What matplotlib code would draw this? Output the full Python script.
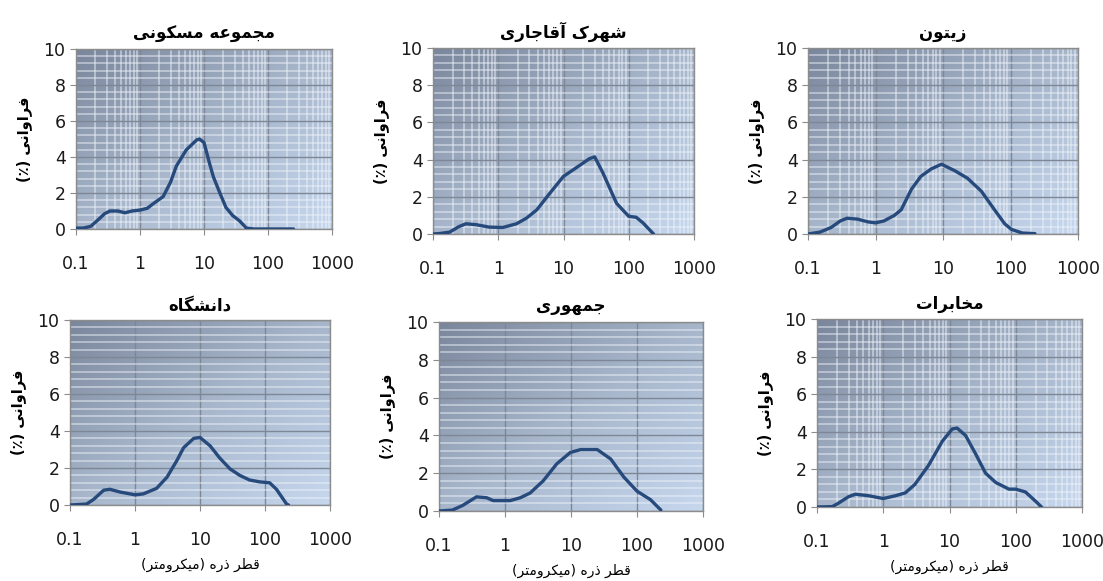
import matplotlib
matplotlib.use("Agg")
import matplotlib.pyplot as plt
from matplotlib.colors import LinearSegmentedColormap
from matplotlib.ticker import MultipleLocator, LogLocator, FixedLocator
import numpy as np

plt.rcParams['font.family'] = ['DejaVu Sans']

# ---- data (particle diameter in micrometre, frequency %) ----
titles = ["مجموعه مسکونی", "شهرک آقاجاری", "زیتون",
          "دانشگاه", "جمهوری", "مخابرات"]

x_maskooni = [0.1, 0.13, 0.17, 0.22, 0.28, 0.34, 0.45, 0.58, 0.75, 1.0, 1.3, 1.6, 2.3,
              3.0, 3.7, 5.3, 7.7, 8.5, 10, 12.3, 14, 17.7, 22, 28, 36, 46, 60, 100, 250]
y_maskooni = [0.05, 0.05, 0.15, 0.5, 0.85, 1.0, 1.0, 0.9, 1.0, 1.05, 1.15, 1.4, 1.8,
              2.6, 3.5, 4.4, 4.95, 5.0, 4.8, 3.6, 2.9, 2.0, 1.2, 0.75, 0.45, 0.05, 0.0, 0.0, 0.0]

x_aghajari = [0.1, 0.13, 0.18, 0.25, 0.32, 0.46, 0.73, 1.17, 1.9, 2.7, 3.9, 6.2, 10,
              15.5, 25, 30, 40, 65, 100, 130, 165, 240]
y_aghajari = [0.0, 0.03, 0.1, 0.4, 0.55, 0.5, 0.37, 0.35, 0.55, 0.85, 1.3, 2.2, 3.1,
              3.55, 4.05, 4.15, 3.3, 1.65, 0.95, 0.9, 0.6, 0.0]

x_zeytoon = [0.1, 0.15, 0.22, 0.3, 0.38, 0.54, 0.78, 1.0, 1.33, 1.9, 2.4, 3.4, 4.7,
             6.7, 9.5, 15, 23, 37, 58, 82, 103, 150, 230]
y_zeytoon = [0.0, 0.1, 0.35, 0.7, 0.85, 0.8, 0.65, 0.6, 0.7, 1.0, 1.3, 2.4, 3.1,
             3.5, 3.75, 3.4, 3.0, 2.3, 1.3, 0.55, 0.25, 0.05, 0.02]

x_daneshgah = [0.1, 0.18, 0.23, 0.33, 0.41, 0.59, 0.84, 1.0, 1.34, 2.15, 3.1, 4.4, 5.6,
               8.0, 10, 14.3, 20, 29, 41, 58, 83, 118, 150, 215, 230]
y_daneshgah = [0.0, 0.05, 0.3, 0.8, 0.85, 0.7, 0.6, 0.55, 0.6, 0.9, 1.5, 2.4, 3.1,
               3.6, 3.65, 3.2, 2.55, 1.95, 1.6, 1.35, 1.25, 1.2, 0.85, 0.05, 0.0]

x_jomhoori = [0.1, 0.16, 0.23, 0.37, 0.53, 0.66, 1.2, 1.7, 2.4, 3.8, 6.1, 9.8, 14,
              25, 40, 63, 100, 160, 230]
y_jomhoori = [0.0, 0.05, 0.3, 0.75, 0.7, 0.55, 0.55, 0.7, 0.95, 1.6, 2.5, 3.1, 3.25,
              3.25, 2.75, 1.8, 1.05, 0.6, 0.05]

x_mokhaberat = [0.1, 0.17, 0.21, 0.3, 0.38, 0.6, 1.0, 1.53, 2.15, 3.0, 4.8, 7.8, 11,
                13, 17.5, 25, 35, 50, 79, 100, 140, 200, 245]
y_mokhaberat = [0.0, 0.02, 0.2, 0.55, 0.68, 0.6, 0.45, 0.6, 0.75, 1.2, 2.2, 3.5, 4.15,
                4.2, 3.8, 2.8, 1.8, 1.3, 0.95, 0.95, 0.8, 0.3, 0.0]

xs = [x_maskooni, x_aghajari, x_zeytoon, x_daneshgah, x_jomhoori, x_mokhaberat]
ys = [y_maskooni, y_aghajari, y_zeytoon, y_daneshgah, y_jomhoori, y_mokhaberat]
x_ticks = [0.1, 1, 10, 100, 1000]
x_tick_labels = ["0.1", "1", "10", "100", "1000"]
y_label = "فراوانی (٪)"
x_label = "قطر ذره (میکرومتر)"

# ---- minimal Persian shaping (matplotlib has no bidi / joining) ----
# letter: (isolated, final, initial, medial) ; None -> letter does not join forward
FORMS = {
    'ا': ('\uFE8D', '\uFE8E', None, None), 'آ': ('\uFE81', '\uFE82', None, None),
    'ب': ('\uFE8F', '\uFE90', '\uFE91', '\uFE92'), 'ت': ('\uFE95', '\uFE96', '\uFE97', '\uFE98'),
    'ج': ('\uFE9D', '\uFE9E', '\uFE9F', '\uFEA0'), 'خ': ('\uFEA5', '\uFEA6', '\uFEA7', '\uFEA8'),
    'د': ('\uFEA9', '\uFEAA', None, None), 'ذ': ('\uFEAB', '\uFEAC', None, None),
    'ر': ('\uFEAD', '\uFEAE', None, None), 'ز': ('\uFEAF', '\uFEB0', None, None),
    'و': ('\uFEED', '\uFEEE', None, None),
    'س': ('\uFEB1', '\uFEB2', '\uFEB3', '\uFEB4'), 'ش': ('\uFEB5', '\uFEB6', '\uFEB7', '\uFEB8'),
    'ط': ('\uFEC1', '\uFEC2', '\uFEC3', '\uFEC4'), 'ع': ('\uFEC9', '\uFECA', '\uFECB', '\uFECC'),
    'ف': ('\uFED1', '\uFED2', '\uFED3', '\uFED4'), 'ق': ('\uFED5', '\uFED6', '\uFED7', '\uFED8'),
    'ل': ('\uFEDD', '\uFEDE', '\uFEDF', '\uFEE0'), 'م': ('\uFEE1', '\uFEE2', '\uFEE3', '\uFEE4'),
    'ن': ('\uFEE5', '\uFEE6', '\uFEE7', '\uFEE8'), 'ه': ('\uFEE9', '\uFEEA', '\uFEEB', '\uFEEC'),
    'ک': ('\uFB8E', '\uFB8F', '\uFB90', '\uFB91'), 'گ': ('\uFB92', '\uFB93', '\uFB94', '\uFB95'),
    'ی': ('\uFBFC', '\uFBFD', '\uFBFE', '\uFBFF'),
}
MIRROR = {'(': ')', ')': '('}


def fa(text):
    out = []
    n = len(text)
    for i, ch in enumerate(text):
        if ch not in FORMS:
            out.append(MIRROR.get(ch, ch))
            continue
        prev = text[i - 1] if i > 0 else None
        nxt = text[i + 1] if i < n - 1 else None
        join_prev = prev in FORMS and FORMS[prev][2] is not None
        join_next = nxt in FORMS and FORMS[ch][2] is not None
        iso, fin, ini, med = FORMS[ch]
        if join_prev and join_next:
            out.append(med)
        elif join_prev:
            out.append(fin)
        elif join_next:
            out.append(ini)
        else:
            out.append(iso)
    return ''.join(reversed(out))


# ---- layout (pixel boxes of the six plot areas: left, right, top, bottom) ----
W, H = 1103, 581
boxes = [(76, 332, 49, 229), (433, 694, 48, 234), (808, 1078, 48, 234),
         (70, 330, 320, 505), (439, 703, 322, 511), (817, 1082, 319, 507)]
minor_x_grid = [True, True, True, False, False, True]

# light at bottom-right, dark at top-left
bg = LinearSegmentedColormap.from_list("bg", ["#c6d7ee", "#a7b6cb", "#7a869b"])
gx, gy = np.meshgrid(np.linspace(0, 1, 200), np.linspace(0, 1, 200))
shade = (1 - gx) * 0.5 + gy * 0.5   # origin lower: row 0 is the bottom

fig = plt.figure(figsize=(W / 100, H / 100), dpi=100)
fig.patch.set_facecolor("white")

for k, (l, r, t, b) in enumerate(boxes):
    ax = fig.add_axes([l / W, 1 - b / H, (r - l) / W, (b - t) / H])
    ax.set_xscale("log")
    ax.set_xlim(0.1, 1000)
    ax.set_ylim(0, 10)

    ax.imshow(shade, extent=[0, 1, 0, 1], transform=ax.transAxes, origin="lower",
              cmap=bg, aspect="auto", zorder=0, interpolation="bilinear")

    ax.yaxis.set_major_locator(MultipleLocator(2))
    ax.yaxis.set_minor_locator(MultipleLocator(0.4))
    ax.xaxis.set_major_locator(FixedLocator(x_ticks))
    ax.set_xticklabels(x_tick_labels)
    ax.xaxis.set_minor_locator(LogLocator(base=10, subs=np.arange(2, 10)))

    ax.grid(which="minor", axis="y", color="#eef3fa", alpha=0.6, linewidth=1.1, zorder=1)
    if minor_x_grid[k]:
        ax.grid(which="minor", axis="x", color="#eef3fa", alpha=0.6, linewidth=1.1, zorder=1)
    ax.grid(which="major", color="#7d8796", linewidth=1.0, zorder=2)

    ax.plot(xs[k], ys[k], color="#274a7c", linewidth=2.4, zorder=5,
            solid_joinstyle="round", solid_capstyle="round")

    for s in ax.spines.values():
        s.set_color("#8c8c8c")
        s.set_linewidth(1.0)
    ax.tick_params(which="major", direction="out", length=4, color="#8c8c8c",
                   labelsize=12.5, labelcolor="#1a1a1a")
    ax.tick_params(axis="x", which="major", pad=15)
    ax.tick_params(which="minor", length=0)

    ax.set_title(fa(titles[k]), fontsize=12, fontweight="bold", pad=7)
    ax.set_ylabel(fa(y_label), fontsize=10.5, fontweight="bold", labelpad=8)
    if k >= 3:
        ax.set_xlabel(fa(x_label), fontsize=10, labelpad=6)

fig.savefig("out.png", dpi=100, facecolor="white")
